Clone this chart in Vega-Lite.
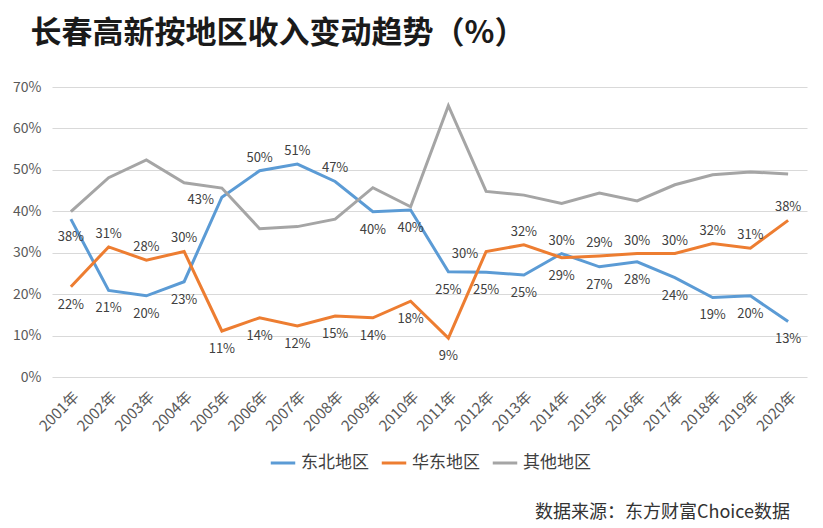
{
  "$schema": "https://vega.github.io/schema/vega-lite/v6.json",
  "background": "white",
  "padding": {"left": 12, "top": 18, "right": 16, "bottom": 2},
  "title": {
    "text": "数据来源：东方财富Choice数据",
    "orient": "bottom",
    "anchor": "end",
    "dx": -17,
    "fontSize": 18,
    "fontWeight": "normal",
    "color": "#333333",
    "offset": 33
  },
  "config": {
    "font": "Noto Sans CJK SC",
    "view": {"stroke": null},
    "axis": {"labelColor": "#595959", "labelFontSize": 13, "grid": true, "gridColor": "#d9d9d9", "ticks": false, "domain": false, "title": null},
    "legend": {"layout": {"bottom": {"anchor": "middle"}}}
  },
  "vconcat": [
    {
      "width": 755,
      "height": 290,
      "title": {
        "text": "长春高新按地区收入变动趋势（%）",
        "anchor": "start",
        "frame": "bounds",
        "dx": 18,
        "fontSize": 31,
        "fontWeight": "bold",
        "color": "#1a1a1a",
        "offset": 30
      },
      "data": {
        "values": [
          {"year": "2001年", "region": "东北地区", "v": 0.381},
          {"year": "2002年", "region": "东北地区", "v": 0.209},
          {"year": "2003年", "region": "东北地区", "v": 0.196},
          {"year": "2004年", "region": "东北地区", "v": 0.230},
          {"year": "2005年", "region": "东北地区", "v": 0.434},
          {"year": "2006年", "region": "东北地区", "v": 0.498},
          {"year": "2007年", "region": "东北地区", "v": 0.514},
          {"year": "2008年", "region": "东北地区", "v": 0.472},
          {"year": "2009年", "region": "东北地区", "v": 0.399},
          {"year": "2010年", "region": "东北地区", "v": 0.403},
          {"year": "2011年", "region": "东北地区", "v": 0.254},
          {"year": "2012年", "region": "东北地区", "v": 0.253},
          {"year": "2013年", "region": "东北地区", "v": 0.246},
          {"year": "2014年", "region": "东北地区", "v": 0.298},
          {"year": "2015年", "region": "东北地区", "v": 0.266},
          {"year": "2016年", "region": "东北地区", "v": 0.278},
          {"year": "2017年", "region": "东北地区", "v": 0.240},
          {"year": "2018年", "region": "东北地区", "v": 0.192},
          {"year": "2019年", "region": "东北地区", "v": 0.196},
          {"year": "2020年", "region": "东北地区", "v": 0.134},
          {"year": "2001年", "region": "华东地区", "v": 0.218},
          {"year": "2002年", "region": "华东地区", "v": 0.314},
          {"year": "2003年", "region": "华东地区", "v": 0.282},
          {"year": "2004年", "region": "华东地区", "v": 0.303},
          {"year": "2005年", "region": "华东地区", "v": 0.111},
          {"year": "2006年", "region": "华东地区", "v": 0.143},
          {"year": "2007年", "region": "华东地区", "v": 0.123},
          {"year": "2008年", "region": "华东地区", "v": 0.147},
          {"year": "2009年", "region": "华东地区", "v": 0.143},
          {"year": "2010年", "region": "华东地区", "v": 0.183},
          {"year": "2011年", "region": "华东地区", "v": 0.094},
          {"year": "2012年", "region": "华东地区", "v": 0.303},
          {"year": "2013年", "region": "华东地区", "v": 0.319},
          {"year": "2014年", "region": "华东地区", "v": 0.288},
          {"year": "2015年", "region": "华东地区", "v": 0.292},
          {"year": "2016年", "region": "华东地区", "v": 0.298},
          {"year": "2017年", "region": "华东地区", "v": 0.298},
          {"year": "2018年", "region": "华东地区", "v": 0.322},
          {"year": "2019年", "region": "华东地区", "v": 0.311},
          {"year": "2020年", "region": "华东地区", "v": 0.378},
          {"year": "2001年", "region": "其他地区", "v": 0.399},
          {"year": "2002年", "region": "其他地区", "v": 0.481},
          {"year": "2003年", "region": "其他地区", "v": 0.524},
          {"year": "2004年", "region": "其他地区", "v": 0.469},
          {"year": "2005年", "region": "其他地区", "v": 0.456},
          {"year": "2006年", "region": "其他地区", "v": 0.358},
          {"year": "2007年", "region": "其他地区", "v": 0.363},
          {"year": "2008年", "region": "其他地区", "v": 0.381},
          {"year": "2009年", "region": "其他地区", "v": 0.457},
          {"year": "2010年", "region": "其他地区", "v": 0.411},
          {"year": "2011年", "region": "其他地区", "v": 0.655},
          {"year": "2012年", "region": "其他地区", "v": 0.448},
          {"year": "2013年", "region": "其他地区", "v": 0.439},
          {"year": "2014年", "region": "其他地区", "v": 0.419},
          {"year": "2015年", "region": "其他地区", "v": 0.444},
          {"year": "2016年", "region": "其他地区", "v": 0.425},
          {"year": "2017年", "region": "其他地区", "v": 0.464},
          {"year": "2018年", "region": "其他地区", "v": 0.488},
          {"year": "2019年", "region": "其他地区", "v": 0.495},
          {"year": "2020年", "region": "其他地区", "v": 0.490}
        ]
      },
      "encoding": {
        "x": {
          "field": "year",
          "type": "ordinal",
          "scale": {"type": "point", "padding": 0.5},
          "axis": {"labelAngle": -45, "grid": false, "labelPadding": 12, "labelFontSize": 15}
        },
        "y": {
          "field": "v",
          "type": "quantitative",
          "scale": {"domain": [0, 0.7]},
          "axis": {"format": ".0%", "tickCount": 7, "labelPadding": 11, "labelFontSize": 14}
        }
      },
      "layer": [
        {
          "mark": {"type": "line", "strokeWidth": 3},
          "encoding": {
            "color": {
              "field": "region",
              "type": "nominal",
              "scale": {"domain": ["东北地区", "华东地区", "其他地区"], "range": ["#5b9bd5", "#ed7d31", "#a5a5a5"]},
              "legend": {
                "orient": "bottom",
                "direction": "horizontal",
                "title": null,
                "symbolType": "stroke",
                "symbolSize": 600,
                "symbolStrokeWidth": 3,
                "labelFontSize": 17,
                "labelColor": "#404040",
                "columnPadding": 6,
                "labelOffset": 4,
                "offset": 15
              }
            }
          }
        },
        {
          "transform": [
            {"filter": "(datum.region == '东北地区' && indexof(['2005年','2006年','2007年','2008年','2014年'], datum.year) < 0) || (datum.region == '华东地区' && indexof(['2001年','2005年','2006年','2007年','2008年','2009年','2010年','2011年','2014年'], datum.year) >= 0)"}
          ],
          "mark": {"type": "text", "baseline": "middle", "dy": 18, "fontSize": 13, "color": "#404040"},
          "encoding": {"text": {"field": "v", "format": ".0%"}}
        },
        {
          "transform": [
            {"filter": "(datum.region == '东北地区' && indexof(['2006年','2007年','2008年','2014年'], datum.year) >= 0) || (datum.region == '华东地区' && indexof(['2002年','2003年','2004年','2013年','2015年','2016年','2017年','2018年','2019年','2020年'], datum.year) >= 0)"}
          ],
          "mark": {"type": "text", "baseline": "middle", "dy": -13, "fontSize": 13, "color": "#404040"},
          "encoding": {"text": {"field": "v", "format": ".0%"}}
        },
        {
          "transform": [
            {"filter": "(datum.region == '东北地区' && datum.year == '2005年') || (datum.region == '华东地区' && datum.year == '2012年')"}
          ],
          "mark": {"type": "text", "baseline": "middle", "align": "right", "dx": -8, "dy": 3, "fontSize": 13, "color": "#404040"},
          "encoding": {"text": {"field": "v", "format": ".0%"}}
        }
      ]
    }
  ]
}
